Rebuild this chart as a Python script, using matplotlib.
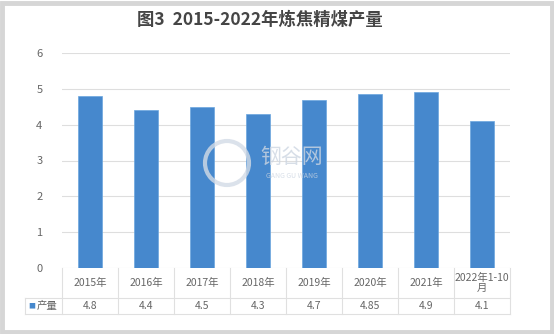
import matplotlib.pyplot as plt
from matplotlib.patches import Rectangle, Ellipse
from matplotlib.lines import Line2D

plt.rcParams['font.family'] = ['Noto Sans CJK SC', 'DejaVu Sans']

categories = ['2015年', '2016年', '2017年', '2018年', '2019年', '2020年', '2021年', '2022年1-10\n月']
values = [4.8, 4.4, 4.5, 4.3, 4.7, 4.85, 4.9, 4.1]
value_labels = ['4.8', '4.4', '4.5', '4.3', '4.7', '4.85', '4.9', '4.1']
series_name = '产量'
title = '图3  2015-2022年炼焦精煤产量'

W, H = 554, 334
fig = plt.figure(figsize=(W / 100, H / 100), dpi=100)
fig.patch.set_facecolor('white')

# grey frame round the picture
fig.patches.append(Rectangle((0.004, 0.006), 0.992, 0.986, transform=fig.transFigure,
                             fill=False, edgecolor='#d6d6d6', linewidth=3.5))

x0, x1, y0, y1 = 62, 510, 268, 53
ax = fig.add_axes([x0 / W, 1 - y0 / H, (x1 - x0) / W, (y0 - y1) / H])

xs = list(range(len(categories)))
ax.bar(xs, values, width=0.43, color='#4688cd', edgecolor='#6aa6df', linewidth=0.5, zorder=3)
ax.set_xlim(-0.5, len(categories) - 0.5)
ax.set_ylim(0, 6)
ax.set_yticks(range(7))
ax.tick_params(axis='y', length=0, labelsize=8, labelcolor='#666666', pad=14)
ax.set_xticks([])
ax.grid(axis='y', color='#dedede', linewidth=0.8, zorder=0)
for s in ax.spines.values():
    s.set_visible(False)

# data table under the plot
ah = y0 - y1
r1 = -(298 - y0) / ah
r2 = -(314 - y0) / ah
tr = ax.get_xaxis_transform()
lc = '#e0e0e0'
for i in range(len(categories) + 1):
    ax.add_line(Line2D([i - 0.5, i - 0.5], [0, r2], transform=tr, color=lc, lw=0.8, clip_on=False))
left = -0.5 - (x0 - 25) / ((x1 - x0) / len(categories))
ax.add_line(Line2D([left, left], [r1, r2], transform=tr, color=lc, lw=0.8, clip_on=False))
for yy in (r1, r2):
    ax.add_line(Line2D([left, len(categories) - 0.5], [yy, yy], transform=tr, color=lc, lw=0.8, clip_on=False))

for i, (c, v) in enumerate(zip(categories, value_labels)):
    ax.text(i, r1 / 2, c, transform=tr, ha='center', va='center', fontsize=7.5,
            color='#666666', linespacing=1.0)
    ax.text(i, (r1 + r2) / 2, v, transform=tr, ha='center', va='center', fontsize=7.5,
            color='#666666')
ax.text(left + 0.05, (r1 + r2) / 2, '■', transform=tr, ha='left', va='center',
        fontsize=5, color='#4688cd')
ax.text(left + 0.2, (r1 + r2) / 2, series_name, transform=tr, ha='left', va='center',
        fontsize=7.5, color='#666666')

# faint watermark
fig.patches.append(Ellipse((227 / W, 1 - 163 / H), 44 / W, 44 / H, transform=fig.transFigure,
                           fill=False, edgecolor='#d3dbe6', linewidth=3, alpha=0.8))
fig.text(292 / W, 1 - 157 / H, '钢谷网', fontsize=15, color='#cdd6e2', ha='center', va='center', alpha=0.8)
fig.text(292 / W, 1 - 176 / H, 'GANG GU WANG', fontsize=5, color='#cdd6e2', ha='center', va='center', alpha=0.8)

fig.text(260 / W, 1 - 20 / H, title, fontsize=12.5, fontweight='bold', color='#454545',
         ha='center', va='center')

fig.savefig('out.png', dpi=100)
